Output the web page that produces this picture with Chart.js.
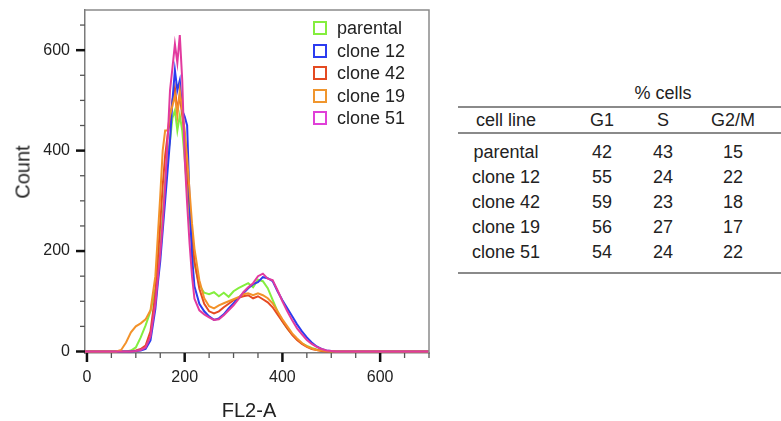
<!DOCTYPE html>
<html>
<head>
<meta charset="utf-8">
<script src="https://cdn.jsdelivr.net/npm/chart.js@4"></script>
<style>
  body { margin: 0; width: 781px; height: 421px; overflow: hidden; background: #fff;
         font-family: "Liberation Sans", Arial, sans-serif; color: #222; position: relative; }
  #chartBox { position: absolute; left: 0; top: 0; width: 440px; height: 421px; }
  .axTitle { position: absolute; font-size: 20px; white-space: nowrap; }
  #legend { position: absolute; left: 313px; top: 17px; font-size: 18px; }
  #legend div { height: 22.5px; line-height: 22px; white-space: nowrap; }
  #legend span.box { display: inline-block; width: 10px; height: 10px; border: 2px solid;
                     vertical-align: -1px; margin-right: 10px; }
  .rule { position: absolute; left: 458px; width: 323px; height: 1.5px; background: #8a8a8a; }
  #tbl { position: absolute; left: 458px; top: 79px; border-collapse: collapse; font-size: 18px; }
  #tbl td { padding: 0; text-align: center; }
</style>
</head>
<body>
<div id="chartBox"><canvas id="histo" width="440" height="421"></canvas></div>
<div class="axTitle" style="left:23px; top:172px; transform: translate(-50%,-50%) rotate(-90deg);">Count</div>
<div class="axTitle" style="left:249px; top:410px; transform: translate(-50%,-50%);">FL2-A</div>
<div id="legend"></div>

<div class="rule" style="top:106px"></div>
<div class="rule" style="top:132px"></div>
<div class="rule" style="top:272px"></div>
<table id="tbl"></table>

<script>
// FL2-A channel positions (shared by all histograms)
const fl2 = [-10, 50, 60, 70, 80, 90, 100, 110, 120, 130, 140, 145, 150, 155, 160, 165, 170, 175, 180, 185,
  190, 195, 200, 205, 210, 215, 220, 230, 240, 250, 260, 270, 280, 290, 300, 310, 320, 330, 340, 350,
  360, 370, 380, 390, 400, 410, 420, 430, 440, 450, 460, 470, 480, 490, 500, 510, 520, 700];

// counts per channel
const parental = [0, 0, 0, 0, 0, 2, 8, 28, 52, 80, 125, 165, 210, 270, 340, 390, 420, 465, 480, 440,
  470, 440, 385, 320, 265, 215, 175, 132, 117, 114, 118, 110, 117, 109, 120, 126, 131, 136, 128, 143,
  140, 126, 103, 80, 60, 46, 34, 24, 16, 11, 7, 4, 2, 1, 0, 0, 0, 0];
const clone12 = [0, 0, 0, 0, 0, 0, 1, 2, 5, 22, 85, 135, 180, 240, 300, 360, 420, 500, 560, 520,
  540, 480, 468, 450, 300, 190, 130, 95, 80, 70, 63, 66, 74, 86, 96, 106, 116, 126, 134, 138,
  148, 146, 140, 120, 102, 86, 70, 54, 40, 28, 18, 10, 5, 2, 1, 0, 0, 0];
const clone42 = [0, 0, 0, 0, 0, 0, 2, 5, 12, 40, 115, 185, 255, 330, 390, 430, 460, 500, 525, 480,
  510, 470, 430, 360, 290, 230, 180, 125, 95, 80, 76, 80, 88, 95, 102, 107, 110, 112, 106, 110,
  104, 98, 88, 74, 60, 46, 33, 23, 15, 9, 5, 3, 1, 0, 0, 0, 0, 0];
const clone19 = [0, 0, 0, 3, 18, 38, 50, 56, 64, 82, 150, 230, 310, 400, 440, 440, 470, 490, 510, 470,
  520, 480, 440, 385, 320, 255, 205, 142, 106, 90, 86, 92, 96, 100, 104, 108, 114, 116, 112, 116,
  112, 106, 96, 80, 64, 50, 36, 26, 17, 10, 6, 3, 2, 1, 1, 0, 0, 0];
const clone51 = [0, 0, 0, 0, 0, 0, 1, 3, 8, 30, 95, 145, 195, 255, 330, 420, 520, 565, 612, 575,
  630, 540, 385, 295, 215, 150, 105, 82, 74, 68, 63, 64, 72, 82, 92, 104, 118, 128, 136, 150,
  155, 145, 142, 122, 100, 80, 62, 46, 34, 23, 15, 9, 5, 2, 1, 0, 0, 0];

const seriesNames = ["parental", "clone 12", "clone 42", "clone 19", "clone 51"];
const seriesData = [parental, clone12, clone42, clone19, clone51];
const lineColors = ["#84ee3e", "#2c3cf0", "#e64a22", "#f3922a", "#e23a9e"];
const boxColors = ["#84ee3e", "#2c3cf0", "#e44a22", "#f0962e", "#e040d8"];
const drawOrder = [5, 3, 4, 2, 1];

const xTicks = [0, 50, 100, 150, 200, 250, 300, 350, 400, 450, 500, 550, 600, 650, 700];
const yTicks = [0, 50, 100, 150, 200, 250, 300, 350, 400, 450, 500, 550, 600, 650];

// table
const cellLines = ["parental", "clone 12", "clone 42", "clone 19", "clone 51"];
const g1 = [42, 55, 59, 56, 54];
const sPhase = [43, 24, 23, 27, 24];
const g2m = [15, 22, 18, 17, 22];

// legend
const legend = document.getElementById("legend");
seriesNames.forEach((n, i) => {
  const d = document.createElement("div");
  d.innerHTML = `<span class="box" style="border-color:${boxColors[i]}"></span>${n}`;
  legend.appendChild(d);
});

// table rows
const tbl = document.getElementById("tbl");
const colW = [96, 96, 26, 105];
let html = `<tr style="height:28px"><td style="width:${colW[0]}px"></td>
  <td colspan="3" style="padding-right:9px">% cells</td></tr>`;
html += `<tr style="height:26px"><td style="width:${colW[0]}px">cell line</td><td style="width:${colW[1]}px">G1</td>
  <td style="width:${colW[2]}px">S</td><td style="width:${colW[3] - 9}px; padding-left:9px">G2/M</td></tr>`;
cellLines.forEach((c, i) => {
  let h = 25, va = "middle";
  if (i === 0) { h = 32; va = "bottom"; }
  if (i === cellLines.length - 1) { h = 32; va = "top"; }
  html += `<tr style="height:${h}px; vertical-align:${va}; line-height:25px"><td>${c}</td><td>${g1[i]}</td>
    <td>${sPhase[i]}</td><td style="padding-left:9px">${g2m[i]}</td></tr>`;
});
tbl.innerHTML = html;

// ticks: long black majors, short grey minors, plus grey frame on top/right
const tickMarks = {
  id: "tickMarks",
  afterDraw(chart) {
    const ctx = chart.ctx;
    const a = chart.chartArea;
    const xs = chart.scales.x, ys = chart.scales.y;
    ctx.save();
    ctx.strokeStyle = "#8a8a8a";
    ctx.lineWidth = 1.5;
    ctx.beginPath();
    ctx.moveTo(a.left, a.top); ctx.lineTo(a.right, a.top); ctx.lineTo(a.right, a.bottom);
    ctx.stroke();
    xs.ticks.forEach(t => {
      const p = xs.getPixelForValue(t.value);
      const major = t.value % 200 === 0;
      ctx.strokeStyle = major ? "#111" : "#555";
      ctx.lineWidth = major ? 2.5 : 1.3;
      ctx.beginPath(); ctx.moveTo(p, a.bottom); ctx.lineTo(p, a.bottom + (major ? 9 : 5)); ctx.stroke();
    });
    ys.ticks.forEach(t => {
      const p = ys.getPixelForValue(t.value);
      const major = t.value % 200 === 0;
      ctx.strokeStyle = major ? "#111" : "#555";
      ctx.lineWidth = major ? 2.5 : 1.3;
      ctx.beginPath(); ctx.moveTo(a.left, p); ctx.lineTo(a.left - (major ? 9 : 5), p); ctx.stroke();
    });
    ctx.restore();
  }
};

new Chart(document.getElementById("histo"), {
  type: "line",
  data: {
    datasets: seriesNames.map((n, i) => ({
      label: n,
      data: fl2.map((x, k) => ({ x: x, y: seriesData[i][k] })),
      borderColor: lineColors[i],
      borderWidth: 2,
      pointRadius: 0,
      tension: 0,
      fill: false,
      order: drawOrder[i]
    }))
  },
  options: {
    responsive: false,
    animation: false,
    layout: { padding: { top: 10, right: 11, left: 0, bottom: 0 } },
    plugins: { legend: { display: false }, tooltip: { enabled: false } },
    scales: {
      x: {
        type: "linear",
        min: -4,
        max: 700,
        afterBuildTicks: (s) => { s.ticks = xTicks.map(v => ({ value: v })); },
        afterFit: (s) => { s.height = 68; s.paddingLeft = 0; s.paddingRight = 0; },
        grid: { drawOnChartArea: false, drawTicks: false },
        border: { display: true, color: "#7a7a7a", width: 1.5 },
        ticks: {
          autoSkip: false, maxRotation: 0, padding: 15, color: "#222",
          font: { family: "Liberation Sans", size: 16 },
          callback: (v) => (v % 200 === 0 ? v : "")
        }
      },
      y: {
        type: "linear",
        min: -3,
        max: 680,
        afterBuildTicks: (s) => { s.ticks = yTicks.map(v => ({ value: v })); },
        afterFit: (s) => { s.width = 85; s.paddingTop = 0; s.paddingBottom = 0; },
        grid: { drawOnChartArea: false, drawTicks: false },
        border: { display: true, color: "#7a7a7a", width: 1.5 },
        ticks: {
          autoSkip: false, padding: 15, color: "#222",
          font: { family: "Liberation Sans", size: 16 },
          callback: (v) => (v % 200 === 0 ? v : "")
        }
      }
    }
  },
  plugins: [tickMarks]
});
</script>
</body>
</html>
